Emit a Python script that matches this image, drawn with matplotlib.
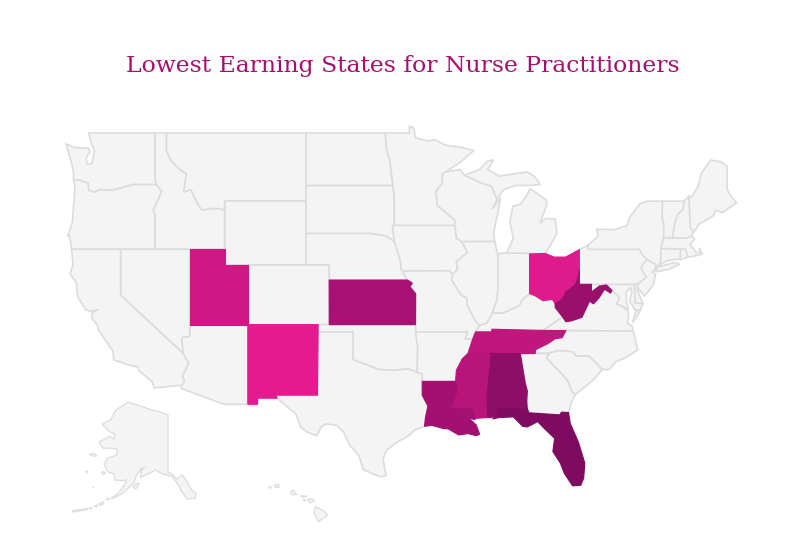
import numpy as np
import matplotlib
matplotlib.use("Agg")
import matplotlib.pyplot as plt
from matplotlib.colors import LinearSegmentedColormap, Normalize

# state outlines, (lon, lat)
WA = [(-124.7,48.38),(-123.9,48.17),(-123.1,48.15),(-122.75,48.15),(-122.65,47.9),(-122.95,47.6),(-122.9,47.2),(-122.45,47.25),(-122.35,47.7),(-122.25,48.0),(-122.5,48.4),(-122.75,49.0),(-117.03,49.0),(-117.04,46.42),(-116.92,46.0),(-118.98,46.0),(-119.3,45.93),(-120.5,45.7),(-121.2,45.65),(-121.8,45.7),(-122.3,45.55),(-122.75,45.65),(-122.8,46.1),(-123.2,46.15),(-123.5,46.27),(-124.05,46.27),(-124.05,46.7),(-124.1,46.95),(-124.4,47.7)]
OR = [(-124.05,46.27),(-123.5,46.27),(-123.2,46.15),(-122.8,46.1),(-122.75,45.65),(-122.3,45.55),(-121.8,45.7),(-121.2,45.65),(-120.5,45.7),(-119.3,45.93),(-118.98,46.0),(-116.92,46.0),(-116.46,45.6),(-116.85,44.95),(-117.2,44.45),(-117.03,44.2),(-117.03,43.85),(-117.03,42.0),(-124.21,42.0),(-124.4,42.9),(-124.55,42.84),(-124.15,43.7),(-124.05,44.7),(-123.95,45.5),(-123.95,46.0)]
ID = [(-117.03,49),(-116.05,49),(-116.05,48.0),(-115.7,47.45),(-114.9,46.9),(-114.35,46.65),(-114.55,45.56),(-113.95,45.7),(-113.45,44.95),(-113.0,44.45),(-112.3,44.55),(-111.5,44.55),(-111.05,44.48),(-111.05,42.0),(-117.03,42),(-117.03,43.85),(-117.03,44.2),(-117.2,44.45),(-116.85,44.95),(-116.46,45.6),(-116.92,46.0),(-117.04,46.42)]
MT = [(-116.05,49),(-104.05,49),(-104.05,45),(-111.05,45),(-111.05,44.48),(-111.5,44.55),(-112.3,44.55),(-113.0,44.45),(-113.45,44.95),(-113.95,45.7),(-114.55,45.56),(-114.35,46.65),(-114.9,46.9),(-115.7,47.45),(-116.05,48)]
WY = [(-111.05,45),(-104.05,45),(-104.05,41),(-111.05,41)]
ND = [(-104.05,49),(-97.23,49),(-97.1,48),(-96.85,47.5),(-96.56,45.94),(-104.05,45.94)]
SD = [(-104.05,45.94),(-96.56,45.94),(-96.45,45.3),(-96.45,43.5),(-96.6,43.5),(-96.45,42.5),(-97.2,42.85),(-98.5,43.0),(-104.05,43)]
NE = [(-104.05,43),(-98.5,43),(-97.2,42.85),(-96.45,42.5),(-96.1,41.7),(-95.9,41.2),(-95.85,40.7),(-95.31,40.0),(-102.05,40),(-102.05,41),(-104.05,41)]
CO = [(-109.05,41),(-102.05,41),(-102.05,37),(-109.05,37)]
KS = [(-102.05,40),(-95.31,40),(-94.9,39.8),(-95.1,39.55),(-94.61,39.1),(-94.62,37),(-102.04,37)]
OK = [(-103,37),(-94.62,37),(-94.43,35.4),(-94.48,33.64),(-95.2,33.9),(-96.5,33.8),(-97.2,33.8),(-97.9,33.9),(-99.2,34.3),(-100,34.56),(-100,36.5),(-103,36.5)]
TX = [(-106.62,32.0),(-103.06,32.0),(-103.0,36.5),(-100,36.5),(-100,34.56),(-99.2,34.3),(-97.9,33.9),(-97.2,33.8),(-96.5,33.8),(-95.2,33.9),(-94.48,33.64),(-94.04,33.55),(-94.04,33.0),(-94.04,32),(-93.55,31.2),(-93.75,30.4),(-93.85,29.7),(-94.7,29.4),(-95.2,29.0),(-96.2,28.5),(-97.1,27.9),(-97.4,27.3),(-97.3,26.6),(-97.15,25.96),(-97.6,25.85),(-98.2,26.05),(-99.1,26.4),(-99.5,27.5),(-100.3,28.3),(-100.8,29.25),(-101.4,29.77),(-102.3,29.88),(-102.7,29.7),(-103.15,28.98),(-104.0,29.3),(-104.5,29.65),(-104.9,30.6),(-106.0,31.4),(-106.53,31.78)]
NM = [(-109.05,37),(-103.0,37),(-103.06,32),(-106.62,32),(-106.53,31.78),(-108.21,31.78),(-108.21,31.33),(-109.05,31.33)]
AZ = [(-114.05,37),(-109.05,37),(-109.05,31.33),(-111.07,31.33),(-114.81,32.5),(-114.72,32.72),(-114.5,33.0),(-114.7,33.4),(-114.15,34.3),(-114.63,35.0),(-114.75,36.1),(-114.05,36.2)]
UT = [(-114.05,42),(-111.05,42),(-111.05,41),(-109.05,41),(-109.05,37),(-114.05,37)]
NV = [(-120,42),(-114.05,42),(-114.05,36.2),(-114.75,36.1),(-114.63,35),(-120,39)]
CA = [(-124.21,42),(-120,42),(-120,39),(-114.63,35),(-114.15,34.3),(-114.7,33.4),(-114.5,33),(-114.72,32.72),(-117.12,32.53),(-117.3,33.0),(-118.4,33.75),(-118.5,34.03),(-119.2,34.15),(-120.6,34.55),(-120.65,35.15),(-121.9,36.6),(-122.0,36.96),(-122.5,37.5),(-122.45,37.8),(-122.0,38.0),(-122.5,37.9),(-123.0,38.0),(-123.7,38.9),(-123.8,39.8),(-124.35,40.4),(-124.1,41)]
MN = [(-97.23,49),(-95.15,49),(-95.15,49.38),(-94.8,49.3),(-94.6,48.72),(-93.5,48.55),(-92.95,48.62),(-92.0,48.3),(-90.8,48.2),(-89.6,48.0),(-90.8,47.3),(-92.05,46.75),(-92.3,46.65),(-92.3,46.1),(-92.85,45.6),(-92.75,44.75),(-91.25,43.85),(-91.22,43.5),(-96.45,43.5),(-96.45,45.3),(-96.56,45.94),(-96.85,47.5),(-97.1,48)]
IA = [(-96.45,43.5),(-91.22,43.5),(-91.1,42.7),(-90.65,42.5),(-90.15,41.8),(-91.1,41.2),(-91.0,40.7),(-91.42,40.38),(-91.73,40.61),(-95.77,40.59),(-95.85,40.7),(-95.9,41.2),(-96.1,41.7),(-96.45,42.5),(-96.6,43.5)]
MO = [(-95.77,40.59),(-91.73,40.61),(-91.42,40.38),(-91.5,40.0),(-90.7,39.0),(-90.2,38.8),(-90.2,38.4),(-89.5,37.3),(-89.1,36.95),(-89.45,36.5),(-89.7,36.0),(-90.37,36.0),(-90.15,36.5),(-94.62,36.5),(-94.62,37),(-94.61,39.1),(-95.1,39.55),(-94.9,39.8),(-95.31,40)]
AR = [(-94.62,36.5),(-90.15,36.5),(-90.37,36),(-89.7,36),(-90.1,35.0),(-90.6,34.6),(-91.1,33.8),(-91.17,33.0),(-94.04,33.0),(-94.04,33.55),(-94.48,33.64),(-94.43,35.4)]
LA = [(-94.04,33),(-91.17,33),(-91.0,32.4),(-91.6,31.0),(-89.73,31),(-89.6,30.6),(-89.55,30.2),(-90.1,30.35),(-89.7,30.05),(-89.4,29.8),(-89.1,29.1),(-89.4,29.0),(-90.1,29.15),(-90.9,29.05),(-91.8,29.5),(-92.3,29.55),(-93.2,29.77),(-93.85,29.7),(-93.75,30.4),(-93.55,31.2),(-94.04,32)]
MS = [(-90.1,35.0),(-88.2,35.0),(-88.1,34.9),(-88.47,31.9),(-88.4,30.35),(-89.35,30.3),(-89.55,30.2),(-89.6,30.6),(-89.73,31),(-91.6,31),(-91,32.4),(-91.17,33),(-91.1,33.8),(-90.6,34.6)]
AL = [(-88.2,35),(-85.6,34.98),(-85.18,32.87),(-85.0,32.3),(-85.05,31.55),(-85.0,31.0),(-87.6,31.0),(-87.45,30.35),(-87.95,30.25),(-88.0,30.65),(-88.1,30.35),(-88.4,30.35),(-88.47,31.9),(-88.1,34.9)]
TN = [(-90.1,35),(-89.7,36),(-89.45,36.5),(-88.05,36.5),(-88.05,36.68),(-83.68,36.6),(-81.68,36.59),(-82.0,36.1),(-82.6,36.03),(-83.2,35.7),(-84.3,35.25),(-84.32,34.99),(-85.6,34.98),(-88.2,35)]
KY = [(-89.45,36.5),(-89.1,36.95),(-88.5,37.1),(-88.0,37.8),(-87.1,37.8),(-86.5,38.0),(-85.7,38.3),(-85.4,38.73),(-84.8,39.1),(-84.3,38.95),(-83.65,38.63),(-82.85,38.72),(-82.6,38.42),(-82.6,38.17),(-81.97,37.54),(-82.7,37.1),(-83.68,36.6),(-88.05,36.68),(-88.05,36.5)]
IL = [(-90.65,42.5),(-87.8,42.5),(-87.6,41.8),(-87.53,41.7),(-87.53,39.35),(-87.6,38.7),(-88.0,37.8),(-88.5,37.1),(-89.1,36.95),(-89.5,37.3),(-90.2,38.4),(-90.2,38.8),(-90.7,39),(-91.5,40),(-91.42,40.38),(-91,40.7),(-91.1,41.2),(-90.15,41.8)]
IN = [(-87.53,41.7),(-87.2,41.75),(-86.8,41.76),(-84.8,41.76),(-84.8,39.1),(-85.4,38.73),(-85.7,38.3),(-86.5,38),(-87.1,37.8),(-88,37.8),(-87.6,38.7),(-87.53,39.35)]
OH = [(-84.8,41.7),(-83.45,41.73),(-82.7,41.5),(-81.7,41.5),(-80.52,41.98),(-80.52,40.64),(-80.65,40.1),(-80.85,39.7),(-81.7,39.2),(-81.8,38.95),(-82.2,38.6),(-82.6,38.42),(-82.85,38.72),(-83.65,38.63),(-84.3,38.95),(-84.8,39.1)]
WV = [(-82.6,38.42),(-82.2,38.6),(-81.8,38.95),(-81.7,39.2),(-80.85,39.7),(-80.65,40.1),(-80.52,40.64),(-80.52,39.72),(-79.48,39.72),(-79.48,39.2),(-78.8,39.6),(-78.2,39.68),(-77.72,39.32),(-77.83,39.14),(-78.35,39.4),(-78.85,38.8),(-79.3,38.42),(-79.65,38.6),(-80.3,37.5),(-81.25,37.25),(-81.68,37.2),(-81.97,37.54),(-82.6,38.17)]
VA = [(-83.68,36.6),(-82.7,37.1),(-81.97,37.54),(-81.68,37.2),(-81.25,37.25),(-80.3,37.5),(-79.65,38.6),(-79.3,38.42),(-78.85,38.8),(-78.35,39.4),(-77.83,39.14),(-77.72,39.32),(-77.05,38.85),(-77.3,38.4),(-76.95,38.3),(-76.3,37.9),(-76.3,37.5),(-76.4,37.1),(-76.0,36.92),(-75.87,36.55),(-81.68,36.59)]
VA_SHORE = [(-75.95,37.15),(-75.65,37.95),(-75.25,38.03),(-75.6,37.5)]
MD = [(-79.48,39.72),(-75.79,39.72),(-75.7,38.46),(-75.05,38.45),(-75.25,38.03),(-75.65,37.95),(-75.9,38.2),(-76.2,38.6),(-76.0,39.2),(-76.1,39.5),(-76.5,39.2),(-76.45,38.5),(-76.3,38.05),(-76.95,38.3),(-77.3,38.4),(-77.05,38.85),(-77.72,39.32),(-78.2,39.68),(-78.8,39.6),(-79.48,39.2)]
DE = [(-75.79,39.72),(-75.4,39.8),(-75.55,39.45),(-75.4,39.05),(-75.05,38.45),(-75.7,38.46)]
NJ = [(-74.7,41.36),(-73.9,41.0),(-74.0,40.7),(-74.25,40.5),(-73.98,40.4),(-74.1,39.75),(-74.9,38.93),(-75.55,39.5),(-75.4,39.8),(-74.75,40.2),(-75.2,40.7),(-75.1,41.0)]
PA = [(-80.52,41.98),(-79.76,42.27),(-79.76,42.0),(-75.35,42.0),(-75.05,41.6),(-74.7,41.36),(-75.1,41),(-75.2,40.7),(-74.75,40.2),(-75.4,39.8),(-75.79,39.72),(-80.52,39.72)]
NY = [(-79.76,42.27),(-78.9,42.85),(-79.05,43.27),(-77.5,43.25),(-76.4,43.5),(-76.2,44.0),(-75.3,44.85),(-74.7,45.0),(-73.35,45.0),(-73.4,44.0),(-73.25,43.6),(-73.27,42.75),(-73.5,42.05),(-73.5,41.3),(-73.65,41.0),(-73.9,40.8),(-74.0,40.7),(-73.9,41.0),(-74.7,41.36),(-75.05,41.6),(-75.35,42),(-79.76,42)]
LONG_ISLAND = [(-74.0,40.6),(-73.75,40.87),(-72.3,41.15),(-71.9,41.05),(-72.8,40.7),(-73.9,40.55)]
CT = [(-73.65,41.0),(-73.5,41.3),(-73.5,42.05),(-71.8,42.02),(-71.8,41.4),(-72.9,41.27)]
RI = [(-71.8,42.02),(-71.38,42.02),(-71.2,41.5),(-71.85,41.32)]
MA = [(-73.5,42.05),(-73.27,42.75),(-71.3,42.7),(-70.85,42.88),(-70.6,42.65),(-71.0,42.3),(-70.6,41.95),(-70.5,41.8),(-70.05,41.8),(-70.2,42.07),(-69.95,41.7),(-70.65,41.55),(-71.2,41.5),(-71.38,42.02),(-71.8,42.02)]
NH = [(-72.46,42.73),(-71.3,42.7),(-70.85,42.88),(-70.7,43.07),(-70.98,43.4),(-71.08,45.3),(-71.5,45.0),(-71.6,44.5),(-72.05,44.2),(-72.3,43.7),(-72.46,43.0)]
VT = [(-73.27,42.75),(-72.46,42.73),(-72.46,43.0),(-72.3,43.7),(-72.05,44.2),(-71.6,44.5),(-71.5,45.0),(-73.35,45.0),(-73.4,44),(-73.25,43.6)]
ME = [(-71.08,45.3),(-70.98,43.4),(-70.7,43.07),(-70.2,43.6),(-69.8,43.75),(-69.0,44.1),(-68.8,44.45),(-68.2,44.3),(-67.0,44.9),(-67.45,45.3),(-67.8,45.7),(-67.8,47.07),(-68.3,47.35),(-69.05,47.43),(-69.22,47.45),(-70.0,46.7),(-70.3,45.9),(-70.85,45.25)]
NC = [(-84.32,34.99),(-84.3,35.25),(-83.2,35.7),(-82.6,36.03),(-82,36.1),(-81.68,36.59),(-75.87,36.55),(-75.5,35.25),(-76.5,34.7),(-77.4,34.4),(-77.95,33.85),(-78.55,33.85),(-79.67,34.8),(-80.8,34.82),(-81.05,35.1),(-82.35,35.2),(-83.1,35.0)]
SC = [(-83.1,35),(-82.35,35.2),(-81.05,35.1),(-80.8,34.82),(-79.67,34.8),(-78.55,33.85),(-79.2,33.2),(-79.9,32.7),(-80.85,32.05),(-81.15,32.2),(-81.5,33.0),(-82.0,33.5),(-82.6,34.0),(-83.35,34.7)]
GA = [(-85.6,34.98),(-83.1,35),(-83.35,34.7),(-82.6,34),(-82,33.5),(-81.5,33),(-81.15,32.2),(-80.85,32.05),(-81.2,31.5),(-81.45,30.72),(-82.05,30.75),(-82.2,30.55),(-84.86,30.7),(-85.0,31.0),(-85.05,31.55),(-85,32.3),(-85.18,32.87)]
FL = [(-87.6,31),(-85,31),(-84.86,30.7),(-82.2,30.55),(-82.05,30.75),(-81.45,30.72),(-81.3,29.9),(-80.6,28.5),(-80.05,26.9),(-80.15,25.75),(-80.4,25.2),(-81.1,25.15),(-81.8,26.1),(-82.15,26.9),(-82.8,27.8),(-82.65,28.8),(-83.5,29.5),(-84.1,30.05),(-85.0,29.65),(-85.4,29.7),(-86.2,30.4),(-87.45,30.35)]
MI_LOWER = [(-86.8,41.76),(-83.45,41.73),(-83.15,42.1),(-82.45,43.0),(-82.6,43.9),(-83.4,43.95),(-83.9,43.65),(-83.3,44.85),(-83.4,45.1),(-84.75,45.75),(-85.1,45.3),(-85.6,44.8),(-86.25,44.7),(-86.5,43.7),(-86.2,42.7)]
MI_UPPER = [(-90.4,46.55),(-89.1,46.9),(-88.4,47.4),(-87.9,47.45),(-88.4,46.9),(-87.4,46.5),(-86.1,46.65),(-85,46.75),(-84.4,46.5),(-83.9,46.0),(-84.75,45.95),(-86.0,45.95),(-87.05,45.7),(-87.6,45.1),(-88.1,45.9),(-89.0,46.1)]
WI = [(-92.3,46.65),(-92.05,46.75),(-90.8,46.9),(-90.4,46.55),(-89,46.1),(-88.1,45.9),(-87.6,45.1),(-88.0,44.55),(-87.3,45.2),(-87.5,44.4),(-87.9,43.0),(-87.8,42.5),(-90.65,42.5),(-91.1,42.7),(-91.22,43.5),(-91.25,43.85),(-92.75,44.75),(-92.85,45.6),(-92.3,46.1)]

AK = [(-141,69.65),(-141,60.3),(-139.5,59.9),(-137.5,58.9),(-135.5,59.7),(-133.5,58.4),(-131.8,56.6),(-130,55.9),(-130.3,54.8),(-131.5,54.7),(-133.5,54.6),(-135.8,56.4),(-137,57.8),(-139.5,59.5),(-143.5,60.0),(-146,60.7),(-148,60.1),(-149.5,59.8),(-151.8,59.2),(-151.5,60.7),(-150,61.2),(-151.5,61.0),(-153.5,59.5),(-154.3,58.2),(-156.5,57.0),(-158.5,56.0),(-161,55.2),(-163.3,54.7),(-160.5,56.0),(-158,57.7),(-157.3,58.8),(-158.8,58.6),(-162,58.7),(-162,59.9),(-164.5,60.3),(-165.4,61.1),(-166,61.8),(-164.8,62.9),(-163,63.1),(-161,63.5),(-161,64.5),(-163,64.6),(-166.5,64.6),(-168.1,65.6),(-164,66.5),(-162,66.1),(-161.8,66.9),(-163.8,67.2),(-166.8,68.35),(-163.5,69.0),(-161.5,70.3),(-156.6,71.35),(-152,70.85),(-148,70.4),(-144,70.05)]
AK_ISLANDS = [
    [(-154.7,57.3),(-153.5,58.0),(-152.3,58.0),(-153.6,56.8)],
    [(-167.2,60.2),(-166,60.4),(-165.5,60.0),(-166.5,59.8)],
    [(-171.7,63.6),(-170,63.7),(-168.8,63.3),(-170.4,63.2)],
    [(-173,60.6),(-172.4,60.4),(-172.9,60.1)],
    [(-170.4,57.2),(-170.1,57.25),(-170.2,57.1)],
    [(-168.3,53.5),(-166.3,53.95),(-166.2,53.5),(-168,53.1)],
    [(-165,54.7),(-164,54.7),(-164.2,54.4),(-165,54.4)],
    [(-170,52.9),(-169,53.3),(-169,52.8)],
    [(-172,52.4),(-170.8,52.7),(-171,52.3)],
    [(-174.5,52.2),(-172.5,52.4),(-173,52),(-174.5,51.9)],
    [(-176.5,52.1),(-175,52.2),(-175,51.8),(-176.5,51.8)],
    [(-178.5,51.9),(-177,52.0),(-177,51.6),(-178.5,51.6)],
]
HI_BIG = [(-155.9,20.25),(-155.1,19.85),(-154.8,19.5),(-155.65,18.95),(-155.95,19.5),(-156.05,19.75)]
HI_MAUI = [(-156.7,20.9),(-156.25,20.95),(-156.0,20.75),(-156.4,20.6)]
HI_MOLOKAI = [(-157.3,21.2),(-156.75,21.17),(-157.0,21.08)]
HI_LANAI = [(-157.05,20.9),(-156.85,20.85),(-156.95,20.75)]
HI_OAHU = [(-158.25,21.55),(-158.0,21.7),(-157.65,21.3),(-158.1,21.3)]
HI_KAUAI = [(-159.75,22.1),(-159.4,22.22),(-159.3,21.95),(-159.6,21.9)]
HI_NIIHAU = [(-160.25,21.95),(-160.05,21.98),(-160.1,21.85)]

# states on the map with no value
plain_shapes = [WA, OR, ID, MT, WY, ND, SD, NE, CO, OK, TX, AZ, NV, CA, MN, IA, MO, AR, KY, IL, IN,
                VA, VA_SHORE, MD, DE, NJ, PA, NY, LONG_ISLAND, CT, RI, MA, NH, VT, ME, NC, SC, GA,
                MI_LOWER, MI_UPPER, WI]
hawaii_shapes = [HI_BIG, HI_MAUI, HI_MOLOKAI, HI_LANAI, HI_OAHU, HI_KAUAI, HI_NIIHAU]

# lowest earning states, estimated from the colour scale
low_states = [NM, OH, UT, TN, MS, KS, LA, WV, AL, FL]
low_values = [100, 94, 80, 68, 58, 42, 38, 28, 18, 5]

title = "Lowest Earning States for Nurse Practitioners"

W, H = 800, 548
land = "#f4f4f4"
border = "#dcdcdc"
cmap = LinearSegmentedColormap.from_list("earn", ["#7a0a5e", "#e41b8f"])
norm = Normalize(0, 100)


def merc(lat):
    return np.degrees(np.log(np.tan(np.pi / 4 + np.radians(lat) / 2)))


def map_axes(fig, k, lon_ref, x_ref, lat_ref, y_ref):
    # full figure axes, k is pixels per degree, the ref point sits at pixel x_ref, y_ref
    ax = fig.add_axes([0, 0, 1, 1])
    ax.set_xlim(lon_ref - x_ref / k, lon_ref + (W - x_ref) / k)
    m = merc(lat_ref)
    ax.set_ylim(m - (H - y_ref) / k, m + y_ref / k)
    ax.axis("off")
    ax.patch.set_alpha(0)
    return ax


def draw(ax, shape, fill=land, edge=border, lw=1.2):
    pts = np.array(shape)
    ax.fill(pts[:, 0], merc(pts[:, 1]), facecolor=fill, edgecolor=edge, linewidth=lw, joinstyle="round")


fig = plt.figure(figsize=(W / 100, H / 100), dpi=100, facecolor="white")

main = map_axes(fig, 11.62, -117.04, 155, 49, 133)
for s in plain_shapes:
    draw(main, s)
for s, v in zip(low_states, low_values):
    c = cmap(norm(v))
    draw(main, s, fill=c, edge=c, lw=0.8)

alaska = map_axes(fig, 2.55, -141, 168, 60.3, 472)
draw(alaska, AK, lw=0.9)
for s in AK_ISLANDS:
    draw(alaska, s, lw=0.8)

hawaii = map_axes(fig, 10.75, -159.5, 277, 22.05, 486)
for s in hawaii_shapes:
    draw(hawaii, s, lw=0.9)

fig.text(403 / W, 1 - 66 / H, title, ha="center", va="center", color="#a5106e",
         fontsize=16.9, family="DejaVu Serif")

fig.savefig("out.png", dpi=100)
